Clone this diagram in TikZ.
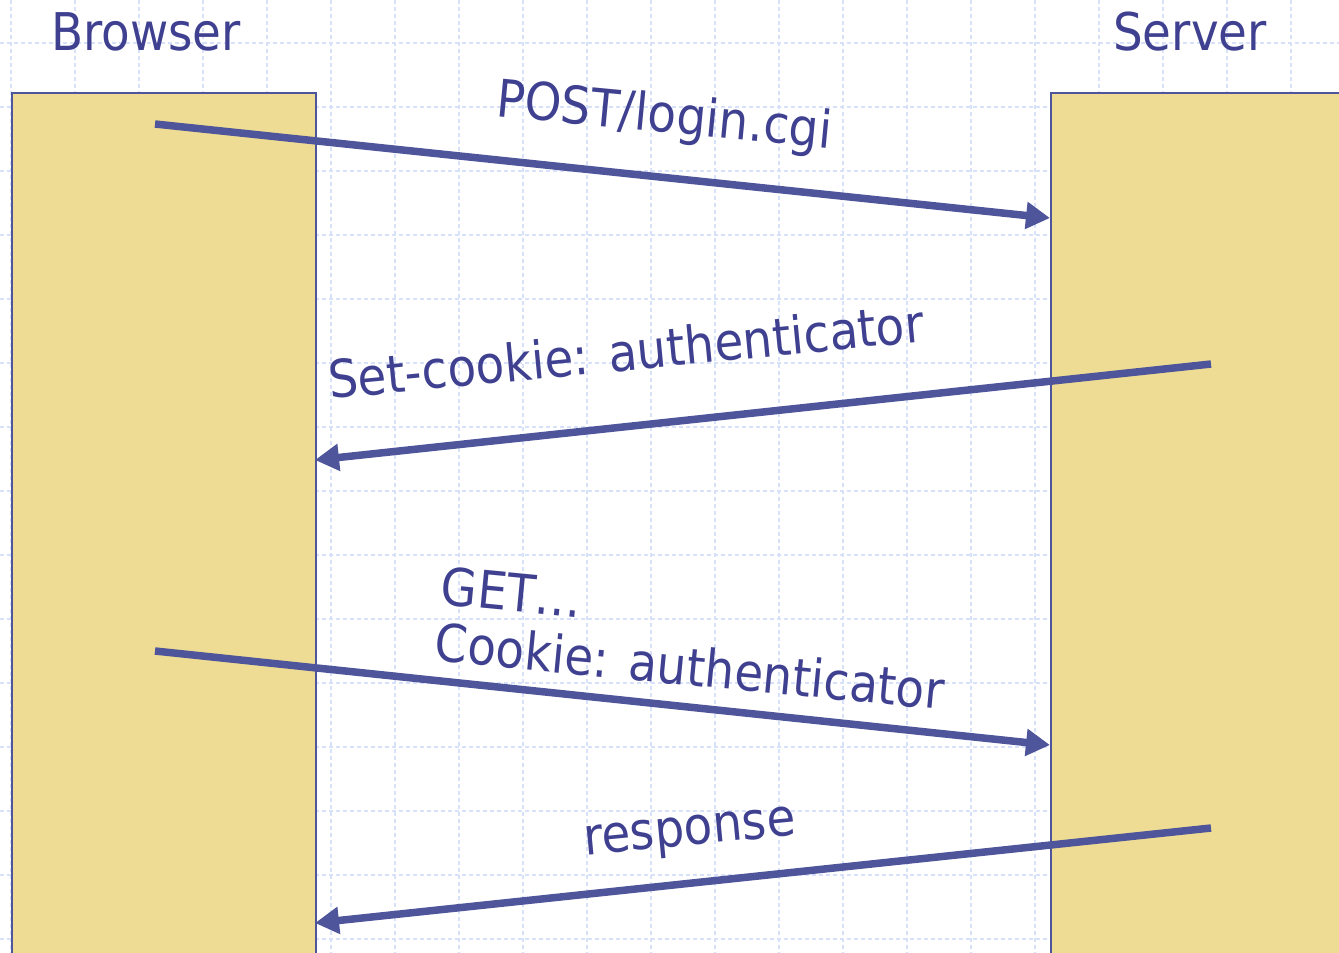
\documentclass[tikz,border=0pt]{standalone}
\usepackage{fontspec}
\setmainfont{DejaVu Sans}[FakeStretch=0.9]
\usetikzlibrary{arrows.meta}
\definecolor{txt}{HTML}{3F4190}
\definecolor{arr}{HTML}{4F559B}
\definecolor{boxfill}{HTML}{EEDC94}
\definecolor{gridc}{HTML}{D8E1FA}
\begin{document}
\begin{tikzpicture}[x=1pt,y=-1pt,
  lane/.style={draw=arr, line width=2pt, fill=boxfill, anchor=north west, inner sep=0pt},
  msg/.style={draw=arr, line width=7.5pt, -{Triangle[length=24pt,width=26pt]}},
  lbl/.style={text=txt, font=\fontsize{52}{57}\selectfont, inner sep=0pt},
  gridl/.style={draw=gridc, line width=1.2pt, dash pattern=on 4pt off 3pt}]
\useasboundingbox (0,0) rectangle (1339,953);
\fill[white] (0,0) rectangle (1339,953);
% grid
\foreach \gx in {11,75,...,1339} \draw[gridl] (\gx,0) -- (\gx,953);
\foreach \gy in {43,107,...,953} \draw[gridl] (0,\gy) -- (1339,\gy);
% lanes
\node[lane, minimum width=304pt, minimum height=880pt] (bbox) at (11,92) {};
\node[lane, minimum width=300pt, minimum height=880pt] (sbox) at (1050,92) {};
\node[lbl] (browser) at (146,32) {Browser};
\node[lbl] (server) at (1190,32) {Server};
% endpoints
\coordinate (b1) at (155,124);
\coordinate (s1) at (1050,218);
\coordinate (s2) at (1211,364);
\coordinate (b2) at (315,460);
\coordinate (b3) at (155,651);
\coordinate (s3) at (1050,745);
\coordinate (s4) at (1211,828);
\coordinate (b4) at (315,923);
\draw[msg] (b1) -- (s1);
\draw[msg] (s2) -- (b2);
\draw[msg] (b3) -- (s3);
\draw[msg] (s4) -- (b4);
% labels
\node[lbl, rotate=-5.5] (l1) at (664,118) {POST/login.cgi};
\node[lbl, rotate=5.5] (l2) at (626,351) {Set-cookie: authenticator};
\node[lbl, rotate=-5.5] (l3a) at (512,592) {GET…};
\node[lbl, rotate=-5.5] (l3b) at (690,666) {Cookie: authenticator};
\node[lbl, rotate=5.5] (l4) at (690,836) {response};
\end{tikzpicture}
\end{document}
